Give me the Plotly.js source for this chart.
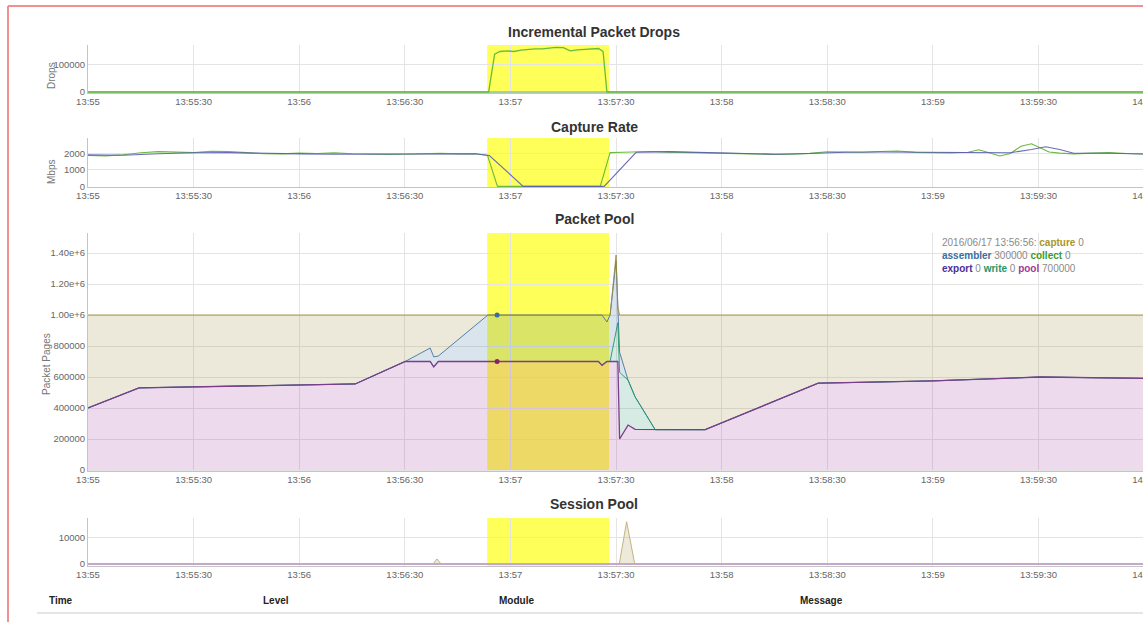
<!DOCTYPE html>
<html>
<head>
<meta charset="utf-8">
<script src="https://cdn.plot.ly/plotly-3.0.1.min.js"></script>
<style>
html, body { margin:0; padding:0; overflow:hidden; background:#fff; }
#chart { width:1200px; height:622px; }
</style>
</head>
<body>
<div id="chart"></div>
<script>
// ---------- DATA (time in seconds after 13:55:00 on 2016/06/17) ----------
const xTickVals = [0, 30, 60, 90, 120, 150, 180, 210, 240, 270, 300];
const xTickLabels = ['13:55', '13:55:30', '13:56', '13:56:30', '13:57', '13:57:30', '13:58', '13:58:30', '13:59', '13:59:30', '14:00'];

const highlightStart = 113.4;
const highlightEnd = 148.0;

// Incremental Packet Drops
const dropsTime = [0, 113.8, 115.5, 117, 119, 121, 123, 125, 127, 129, 131, 133, 135, 137, 139, 141, 143, 145, 146.3, 147.4, 305];
const dropsIncr = [0, 0, 140000, 150000, 152000, 150000, 155000, 158000, 160000, 160000, 163000, 165000, 164000, 152000, 156000, 158000, 160000, 161000, 150000, 0, 0];
const dropsOther = [0, 0, 0, 0, 0, 0, 0, 0, 0, 0, 0, 0, 0, 0, 0, 0, 0, 0, 0, 0, 0];
const dropsTicks = [0, 100000];

// Capture Rate (Mbps)
const rateTimeGreen = [0,5,10,15,20,25,30,35,40,45,50,55,60,65,70,75,80,85,90,95,100,105,110,113.5,116.3,145.5,148.3,152,156,160,165,170,175,180,185,190,195,200,205,210,215,220,225,230,235,240,245,250,253,256,259,262,265,268,270,273,276,280,285,290,295,300,305];
const rateGreen = [1880,1860,1930,2050,2120,2080,2060,2140,2130,2060,1990,1980,2030,2000,2040,1990,1960,1950,1960,2000,2010,1980,1990,1880,0,0,2060,2080,2110,2130,2090,2060,2040,2010,1990,1960,1950,1960,2010,2110,2100,2080,2130,2160,2070,2050,2040,2080,2230,2050,1850,2000,2450,2600,2400,2100,2030,1980,2030,2060,2000,1960,1950];
const rateTimeBlue = [0,10,20,30,40,50,60,70,80,90,100,110,114,123.6,146.6,155.7,165,175,185,195,205,215,225,235,245,255,262,268,272,276,280,290,300,305];
const rateBlue = [1920,1900,1990,2050,2060,2000,1980,1960,1960,1990,2000,1990,1880,0,0,2080,2120,2080,2020,1960,2000,2080,2100,2080,2060,2040,2050,2250,2420,2250,2020,2020,1960,1950];
const rateTicks = [0, 1000, 2000];

// Packet Pool (stacked)
const poolTime = [0, 14.5, 75.9, 90.1, 97.2, 98.2, 99.5, 113.6, 116.2, 145.0, 146.0, 147.4, 148.3, 150.0, 150.5, 151.0, 153.4, 155.4, 157.7, 161.1, 175.3, 207.4, 240.1, 270.5, 305];
const poolPool = [400000, 530000, 555000, 700000, 700000, 665000, 700000, 700000, 700000, 700000, 675000, 700000, 700000, 700000, 700000, 200000, 290000, 262000, 262000, 260000, 260000, 560000, 575000, 600000, 590000];
const poolWrite = [0,0,0,0,0,0,0,0,0,0,0,0,0,200000,250000,430000,290000,210000,125000,0,0,0,0,0,0];
const poolExport = [0,0,0,0,0,0,0,0,0,0,0,0,0,0,0,0,0,0,0,0,0,0,0,0,0];
const poolCollect = [0,0,0,0,0,0,0,0,0,0,0,0,0,0,0,0,0,0,0,0,0,0,0,0,0];
const poolAssembler = [0,0,0,0,87000,65000,35000,300000,300000,300000,325000,255000,300000,450000,100000,130000,0,0,0,0,0,0,0,0,0];
const poolCapture = [600000,470000,445000,300000,213000,270000,265000,0,0,0,0,45000,0,37000,0,240000,420000,528000,613000,740000,740000,440000,425000,400000,410000];
const poolTicks = [0, 200000, 400000, 600000, 800000, 1000000, 1200000, 1400000];
const poolTickLabels = ['0', '200000', '400000', '600000', '800000', '1.00e+6', '1.20e+6', '1.40e+6'];
const selectedIndex = 8;
const selectedLabel = '2016/06/17 13:56:56:';

// Session Pool
const sessionTime = [0, 98.0, 99.1, 100.3, 150.9, 153.0, 155.3, 305];
const sessionCapture = [0, 0, 1900, 0, 0, 15800, 0, 0];
const sessionPool = [0, 0, 0, 0, 0, 0, 0, 0];
const sessionTicks = [0, 10000];

const tableHeaders = ['Time', 'Level', 'Module', 'Message'];

// ---------- LAYOUT HELPERS ----------
const W = 1200, H = 622;
const px = x => x / W;
const py = y => 1 - y / H;

const C = {
  capture: '#9a8a3a', assembler: '#3a6e9e', collect: '#3c9a2c',
  export: '#4a2c9c', write: '#22966c', pool: '#a23a98',
  green: '#68bb3c', blue: '#5a5cb4'
};
const rgba = (hex, a) => {
  const n = parseInt(hex.slice(1), 16);
  return `rgba(${(n>>16)&255},${(n>>8)&255},${n&255},${a})`;
};

const xDomain = [px(88), px(1160)];
const xRange = [0, 304.5];
function xa(anchor) {
  return {
    domain: xDomain, range: xRange, anchor: anchor,
    tickmode: 'array', tickvals: xTickVals, ticktext: xTickLabels,
    showgrid: true, gridcolor: '#e4e4e4', gridwidth: 1,
    showline: true, linecolor: '#c4c4c4', linewidth: 1,
    ticks: '', tickfont: {size: 9.5, color: '#666'}, zeroline: false, fixedrange: true
  };
}
function ya(anchor, top, bottom, range, vals, text) {
  return {
    domain: [py(bottom), py(top)], range: range, anchor: anchor,
    tickmode: 'array', tickvals: vals, ticktext: text || vals.map(String),
    showgrid: true, gridcolor: '#e4e4e4', gridwidth: 1,
    showline: true, linecolor: '#c4c4c4', linewidth: 1,
    ticks: '', tickfont: {size: 9.5, color: '#666'}, zeroline: false, fixedrange: true
  };
}

// ---------- TRACES ----------
const traces = [];
// Panel 1
traces.push({x: dropsTime, y: dropsOther, xaxis: 'x', yaxis: 'y', mode: 'lines', line: {color: '#8fbcbc', width: 1.5}, hoverinfo: 'skip'});
traces.push({x: dropsTime, y: dropsIncr, xaxis: 'x', yaxis: 'y', mode: 'lines', line: {color: C.green, width: 1.3}, hoverinfo: 'skip'});
// Panel 2
traces.push({x: rateTimeGreen, y: rateGreen, xaxis: 'x2', yaxis: 'y2', mode: 'lines', line: {color: C.green, width: 1.1}, hoverinfo: 'skip'});
traces.push({x: rateTimeBlue, y: rateBlue, xaxis: 'x2', yaxis: 'y2', mode: 'lines', line: {color: C.blue, width: 1.1}, opacity: 0.9, hoverinfo: 'skip'});
// Panel 3 (stacked, bottom -> top)
const stackDefs = [
  ['pool', poolPool, C.pool, 0],
  ['write', poolWrite, C.write, 0],
  ['export', poolExport, C.export, 0],
  ['collect', poolCollect, C.collect, 0],
  ['assembler', poolAssembler, C.assembler, 1],
  ['capture', poolCapture, C.capture, 1]
];
stackDefs.forEach(([name, vals, col, w]) => {
  traces.push({
    x: poolTime, y: vals, name: name, xaxis: 'x3', yaxis: 'y3', mode: 'lines',
    stackgroup: 'pp', fillcolor: rgba(col, 0.19),
    line: {color: w > 0 ? rgba(col, 0.85) : 'rgba(0,0,0,0)', width: w > 0 ? w : 0.1},
    hoverinfo: 'skip'
  });
});
// outlines of write (pool + write) and pool, drawn on top
const poolPlusWrite = poolPool.map((v, k) => v + poolWrite[k]);
traces.push({x: poolTime, y: poolPlusWrite, xaxis: 'x3', yaxis: 'y3', mode: 'lines',
  line: {color: rgba(C.write, 0.9), width: 1}, hoverinfo: 'skip'});
traces.push({x: poolTime, y: poolPool, xaxis: 'x3', yaxis: 'y3', mode: 'lines',
  line: {color: '#7c3d8e', width: 1.3}, hoverinfo: 'skip'});
// selected-point dots
const i = selectedIndex;
const topAssembler = poolPool[i] + poolWrite[i] + poolExport[i] + poolCollect[i] + poolAssembler[i];
traces.push({
  x: [poolTime[i], poolTime[i]], y: [topAssembler, poolPool[i]], xaxis: 'x3', yaxis: 'y3',
  mode: 'markers', marker: {size: 5, color: [C.assembler, '#8a1f6a']}, hoverinfo: 'skip'
});
// Panel 4
traces.push({x: sessionTime, y: sessionCapture, xaxis: 'x4', yaxis: 'y4', mode: 'lines', fill: 'tozeroy',
  fillcolor: rgba(C.capture, 0.18), line: {color: '#c2b37e', width: 1}, hoverinfo: 'skip'});
traces.push({x: sessionTime, y: sessionPool, xaxis: 'x4', yaxis: 'y4', mode: 'lines', line: {color: '#c4a8cc', width: 1.8}, hoverinfo: 'skip'});

// ---------- SHAPES ----------
const shapes = [];
[['x', 'y domain'], ['x2', 'y2 domain'], ['x3', 'y3 domain'], ['x4', 'y4 domain']].forEach(([xr, yr]) => {
  shapes.push({type: 'rect', xref: xr, yref: yr, x0: highlightStart, x1: highlightEnd, y0: 0, y1: 1,
    fillcolor: '#ffff5a', line: {width: 0}, layer: 'below'});
});
shapes.push({type: 'line', xref: 'paper', yref: 'paper', x0: px(8), x1: px(8), y0: py(6), y1: py(640), line: {color: '#f09090', width: 2}});
shapes.push({type: 'line', xref: 'paper', yref: 'paper', x0: px(8), x1: 1, y0: py(6), y1: py(6), line: {color: '#f09090', width: 2}});
shapes.push({type: 'line', xref: 'paper', yref: 'paper', x0: px(37), x1: 1, y0: py(613), y1: py(613), line: {color: '#dcdcdc', width: 1.5}});

// ---------- ANNOTATIONS ----------
const ann = [];
const title = (t, y) => ann.push({text: '<b>' + t + '</b>', x: px(594), y: py(y), xref: 'paper', yref: 'paper',
  showarrow: false, xanchor: 'center', yanchor: 'middle', font: {size: 14, color: '#333'}});
title('Incremental Packet Drops', 32);
title('Capture Rate', 127);
title('Packet Pool', 219);
title('Session Pool', 504);

const ytitle = (t, x, y) => ann.push({text: t, x: px(x), y: py(y), xref: 'paper', yref: 'paper', textangle: -90,
  showarrow: false, xanchor: 'center', yanchor: 'middle', font: {size: 10, color: '#777'}});
ytitle('Drops', 51, 76);
ytitle('Mbps', 51, 172);
ytitle('Packet Pages', 46, 364);

const lab = (name, col) => `<b><span style="color:${col}">${name}</span></b>`;
const val = v => `<span style="color:#8a8a8a"> ${v} </span>`;
const legendText =
  `<span style="color:#8a8a8a">${selectedLabel} </span>${lab('capture', '#a8962e')}${val(poolCapture[i])}<br>` +
  `${lab('assembler', C.assembler)}${val(poolAssembler[i])}${lab('collect', C.collect)}${val(poolCollect[i])}<br>` +
  `${lab('export', C.export)}${val(poolExport[i])}${lab('write', C.write)}${val(poolWrite[i])}${lab('pool', C.pool)}${val(poolPool[i])}`;
ann.push({text: legendText, x: px(940), y: py(235), xref: 'paper', yref: 'paper', showarrow: false,
  xanchor: 'left', yanchor: 'top', align: 'left', font: {size: 10, color: '#888'}});

const headerX = [47, 261, 497, 798];
tableHeaders.forEach((h, k) => ann.push({text: '<b>' + h + '</b>', x: px(headerX[k]), y: py(600), xref: 'paper', yref: 'paper',
  showarrow: false, xanchor: 'left', yanchor: 'middle', font: {size: 10, color: '#222'}}));

// ---------- LAYOUT ----------
const layout = {
  width: W, height: H,
  margin: {l: 0, r: 0, t: 0, b: 0},
  paper_bgcolor: '#fff', plot_bgcolor: 'rgba(0,0,0,0)',
  font: {family: 'Liberation Sans, Arial, sans-serif'},
  showlegend: false, hovermode: false,
  xaxis: xa('y'), xaxis2: xa('y2'), xaxis3: xa('y3'), xaxis4: xa('y4'),
  yaxis: ya('x', 45, 93, [-3700, 174000], dropsTicks),
  yaxis2: ya('x2', 138, 187, [-40, 2950], rateTicks),
  yaxis3: ya('x3', 233, 471, [-6452, 1529000], poolTicks, poolTickLabels),
  yaxis4: ya('x4', 518, 566, [-750, 17200], sessionTicks),
  shapes: shapes, annotations: ann
};

Plotly.newPlot('chart', traces, layout, {staticPlot: true, displayModeBar: false});
</script>
</body>
</html>
